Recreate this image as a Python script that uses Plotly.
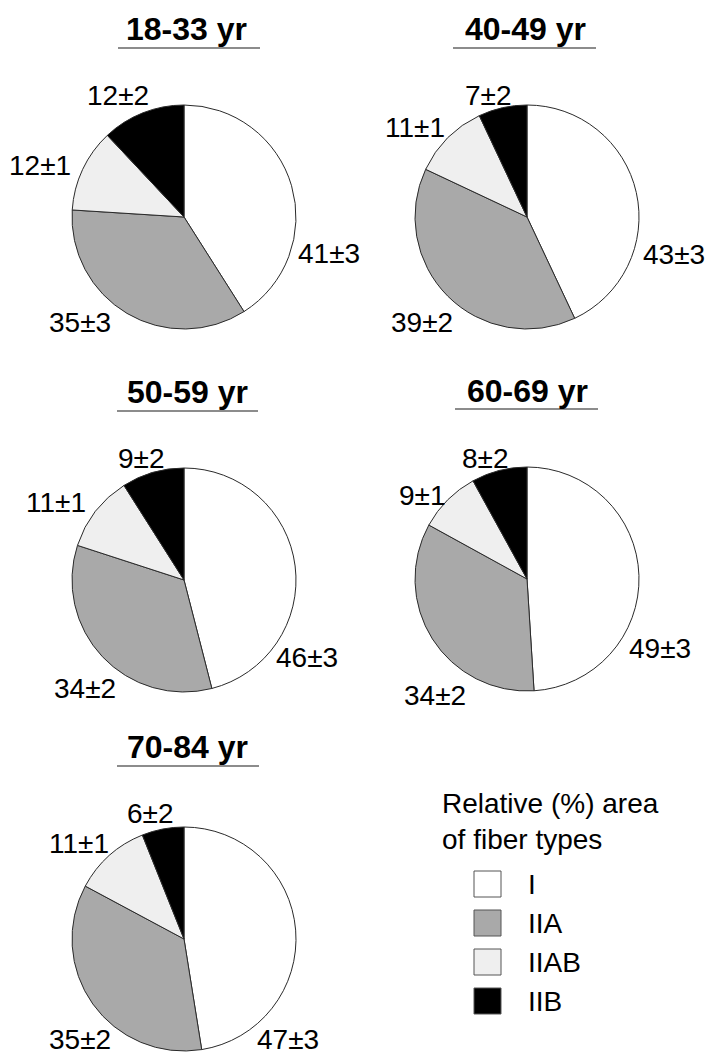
import plotly.graph_objects as go

# Fiber types and their fill colours
fiber_types = ["I", "IIA", "IIAB", "IIB"]
fiber_colors = ["#ffffff", "#a9a9a9", "#efefef", "#000000"]

# Age groups
age_groups = ["18-33 yr", "40-49 yr", "50-59 yr", "60-69 yr", "70-84 yr"]

# Relative (%) area of each fiber type, mean and SE, per age group (I, IIA, IIAB, IIB)
area_18_33 = [41, 35, 12, 12]
se_18_33 = [3, 3, 1, 2]
area_40_49 = [43, 39, 11, 7]
se_40_49 = [3, 2, 1, 2]
area_50_59 = [46, 34, 11, 9]
se_50_59 = [3, 2, 1, 2]
area_60_69 = [49, 34, 9, 8]
se_60_69 = [3, 2, 1, 2]
area_70_84 = [47, 35, 11, 6]
se_70_84 = [3, 2, 1, 2]

areas = [area_18_33, area_40_49, area_50_59, area_60_69, area_70_84]
ses = [se_18_33, se_40_49, se_50_59, se_60_69, se_70_84]

# ---- layout (pixels) ----
W, H = 710, 1055
R = 112
centers = [(184, 217), (527, 217), (184, 580), (527, 579), (184, 939)]
# title centre and underline extents for each panel
title_pos = [(186, 29), (525, 29), (187, 392), (527, 391), (187, 747)]
underline = [(118, 260, 48), (453, 596, 48), (117, 258, 411), (455, 598, 409), (117, 259, 766)]
# label offsets from pie centre, ordered I, IIA, IIAB, IIB
label_offsets = [
    [(145, 36), (-104, 106), (-144, -51), (-66, -122)],
    [(147, 38), (-105, 105), (-112, -90), (-39, -122)],
    [(123, 77), (-99, 108), (-128, -77), (-43, -122)],
    [(133, 69), (-92, 116), (-105, -84), (-42, -121)],
    [(104, 100), (-104, 100), (-105, -96), (-34, -126)],
]

FONT = "Liberation Sans, Arial, sans-serif"


def px(x):
    return x / W


def py(y):
    return 1 - y / H


fig = go.Figure()
annotations = []
shapes = []

for i, (name, vals, errs) in enumerate(zip(age_groups, areas, ses)):
    cx, cy = centers[i]
    fig.add_trace(go.Pie(
        labels=fiber_types,
        values=vals,
        sort=False,
        direction="clockwise",
        rotation=0,
        textinfo="none",
        hoverinfo="label+value",
        marker=dict(colors=fiber_colors, line=dict(color="#2a2a2a", width=1)),
        domain=dict(x=[px(cx - R), px(cx + R)], y=[py(cy + R), py(cy - R)]),
        showlegend=False,
        name=name,
    ))
    for j, (v, e) in enumerate(zip(vals, errs)):
        dx, dy = label_offsets[i][j]
        annotations.append(dict(
            x=px(cx + dx), y=py(cy + dy), xref="paper", yref="paper",
            text=f"{v}\u00b1{e}", showarrow=False,
            xanchor="center", yanchor="middle",
            font=dict(family=FONT, size=28, color="#000000"),
        ))
    tx, ty = title_pos[i]
    annotations.append(dict(
        x=px(tx), y=py(ty), xref="paper", yref="paper",
        text=f"<b>{name}</b>", showarrow=False,
        xanchor="center", yanchor="middle",
        font=dict(family=FONT, size=32, color="#000000"),
    ))
    x0, x1, uy = underline[i]
    shapes.append(dict(
        type="line", xref="paper", yref="paper",
        x0=px(x0), x1=px(x1), y0=py(uy), y1=py(uy),
        line=dict(color="#666666", width=1.5),
    ))

# ---- legend ----
annotations.append(dict(
    x=px(440), y=py(821), xref="paper", yref="paper",
    text="Relative (%) area<br>of fiber types", showarrow=False,
    xanchor="left", yanchor="middle", align="left",
    font=dict(family=FONT, size=28, color="#000000"),
))
legend_rows = [884, 923, 962, 1001]
for k, (ft, col) in enumerate(zip(fiber_types, fiber_colors)):
    yc = legend_rows[k]
    shapes.append(dict(
        type="rect", xref="paper", yref="paper",
        x0=px(474), x1=px(501), y0=py(yc + 13), y1=py(yc - 13),
        fillcolor=col, line=dict(color="#555555", width=1),
    ))
    annotations.append(dict(
        x=px(526), y=py(yc), xref="paper", yref="paper",
        text=ft, showarrow=False, xanchor="left", yanchor="middle",
        font=dict(family=FONT, size=28, color="#000000"),
    ))

fig.update_layout(
    width=W, height=H,
    margin=dict(l=0, r=0, t=0, b=0),
    paper_bgcolor="white", plot_bgcolor="white",
    annotations=annotations, shapes=shapes,
    showlegend=False,
)

fig.write_html("out.html")
